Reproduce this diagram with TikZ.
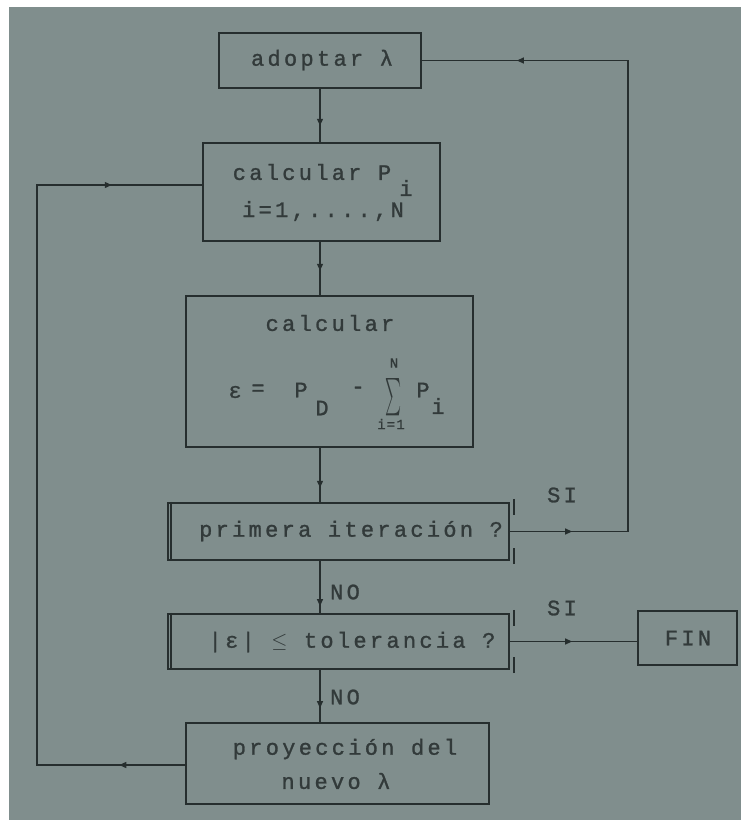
\documentclass[tikz,border=0pt]{standalone}
\usepackage{fontspec}
\usepackage{graphicx}
\usetikzlibrary{arrows.meta,decorations.markings}
\newfontfamily\plot[LetterSpace=15,FakeBold=1.2]{Liberation Mono}
\newfontfamily\plotb[LetterSpace=8,FakeBold=1.2]{Liberation Mono}
\definecolor{bg}{RGB}{128,142,141}
\definecolor{ink}{RGB}{38,46,46}
\definecolor{tink}{RGB}{50,58,58}
\tikzset{
  box/.style={draw=ink,line width=1.5pt,inner sep=0pt,fill=none},
  dbox/.style={draw=ink,line width=2.2pt,inner sep=0pt},
  txt/.style={text=tink,font=\plot\fontsize{22}{26}\selectfont,inner sep=0pt},
  small/.style={text=tink,font=\plotb\fontsize{14}{16}\selectfont,inner sep=0pt},
  conn/.style={draw=ink,line width=1.3pt},
  am/.style={postaction={decorate},decoration={markings,
     mark=at position #1 with {\arrow{Triangle[length=7pt,width=6pt]}}}},
  amm/.style 2 args={postaction={decorate},decoration={markings,
     mark=at position #1 with {\arrow{Triangle[length=7pt,width=6pt]}},
     mark=at position #2 with {\arrow{Triangle[length=7pt,width=6pt]}}}}
}
\begin{document}
\begin{tikzpicture}[x=1pt,y=-1pt]
\useasboundingbox (0,0) rectangle (741,820);
\fill[white] (0,0) rectangle (741,820);
\fill[bg] (9,7) rectangle (741,820);

% boxes
\node[box,minimum width=202pt,minimum height=55pt] (adoptar) at (320,60.5) {};
\node[box,minimum width=237pt,minimum height=98pt] (calcP) at (321.5,192) {};
\node[box,minimum width=287pt,minimum height=151pt] (eps) at (329.5,371.5) {};
\node[dbox,minimum width=341pt,minimum height=57pt] (prim) at (338.5,531.5) {};
\node[dbox,minimum width=341pt,minimum height=55pt] (tol) at (338.5,641.5) {};
\node[box,minimum width=99pt,minimum height=54pt] (fin) at (687.5,638) {};
\node[box,minimum width=303pt,minimum height=81pt] (proy) at (337.5,763.5) {};

% double edges of decision boxes
\draw[ink,line width=1.4pt] ([xshift=4pt]prim.north west) -- ([xshift=4pt]prim.south west);
\draw[ink,line width=1.4pt] ([xshift=4pt,yshift=3pt]prim.north east) -- ([xshift=4pt,yshift=-13pt]prim.north east);
\draw[ink,line width=1.4pt] ([xshift=4pt,yshift=-3pt]prim.south east) -- ([xshift=4pt,yshift=13pt]prim.south east);
\draw[ink,line width=1.4pt] ([xshift=4pt]tol.north west) -- ([xshift=4pt]tol.south west);
\draw[ink,line width=1.4pt] ([xshift=4pt,yshift=3pt]tol.north east) -- ([xshift=4pt,yshift=-13pt]tol.north east);
\draw[ink,line width=1.4pt] ([xshift=4pt,yshift=-3pt]tol.south east) -- ([xshift=4pt,yshift=13pt]tol.south east);

% texts
\node[txt] (t1) at (322,60) {adoptar λ};
\node[txt] (t2) at (312,172) {calcular P};
\node[txt] (t2i) at (406,188) {i};
\node[txt] (t3) at (323,211) {i=1,....,N};
\node[txt] (t4) at (330,323) {calcular};
\node[txt] (e1) at (235,392) {ε};
\node[txt] (e1b) at (258,390) {=};
\node[txt] (e1c) at (301,390) {P};
\node[txt] (e2) at (322,408) {D};
\node[txt] (e3) at (358,390) {-};
\node[text=tink,inner sep=0pt] (e4) at (393,397) {\resizebox{16pt}{28pt}{$\sum$}};
\node[small] (e5) at (394,363) {N};
\node[small] (e6) at (391,424) {i=1};
\node[txt] (e7) at (423,390) {P};
\node[txt] (e8) at (438,406) {i};
\node[txt] (t5) at (351,531) {primera iteración ?};
\node[txt] (t6) at (352,642) {|ε| $\le$ tolerancia ?};
\node[txt] (t7) at (345,749) {proyección del};
\node[txt] (t8) at (336,781) {nuevo λ};
\node[txt] (tf) at (688,638) {FIN};
\node[txt] (si1) at (562,495) {SI};
\node[txt] (si2) at (562,608) {SI};
\node[txt] (no1) at (345,592) {NO};
\node[txt] (no2) at (345,697) {NO};

% coordinates
\coordinate (rc) at (628,531.5);
\coordinate (lc) at (37,765);
\coordinate (lt) at (37,185);

% connectors
\draw[conn,am=37pt] (adoptar.south) -- (adoptar.south |- calcP.north);
\draw[conn,am=29pt] (calcP.south -| adoptar.south) -- (adoptar.south |- eps.north);
\draw[conn,am=40pt] (eps.south -| adoptar.south) -- (adoptar.south |- prim.north);
\draw[conn,am=45pt] (prim.south -| adoptar.south) -- (adoptar.south |- tol.north);
\draw[conn,am=38pt] (tol.south -| adoptar.south) -- (adoptar.south |- proy.north);
\draw[conn,am=62pt] (tol.east) -- (fin.west |- tol.east);
\draw[conn,amm={62pt}{700pt}] (prim.east) -- (rc) |- (adoptar.east);
\draw[conn,amm={66pt}{803pt}] (proy.west |- lc) -- (lc) -- (lt) -- (lt -| calcP.west);
\end{tikzpicture}
\end{document}
